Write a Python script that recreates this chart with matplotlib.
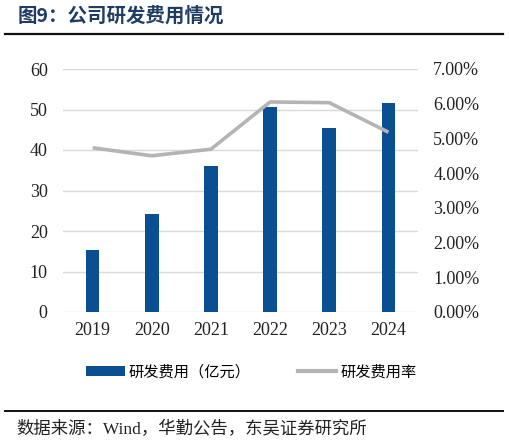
import matplotlib
matplotlib.use("Agg")
import matplotlib.pyplot as plt
from matplotlib.lines import Line2D
from matplotlib.patches import Patch
from matplotlib.ticker import FuncFormatter, MultipleLocator

years = ["2019", "2020", "2021", "2022", "2023", "2024"]
rd_expense = [15.3, 24.3, 36.0, 50.5, 45.4, 51.6]      # 亿元
rd_rate = [4.73, 4.50, 4.69, 6.05, 6.03, 5.18]          # %

title = "图9：公司研发费用情况"
legend_labels = ["研发费用（亿元）", "研发费用率"]
source = "数据来源：Wind，华勤公告，东吴证券研究所"

BLUE = "#0B4F93"
GRAY = "#B4B4B4"
TITLE_C = "#1F3C64"
CJK = ["Noto Sans CJK SC", "DejaVu Sans"]
NUM = ["Liberation Serif", "Noto Sans CJK SC"]

fig = plt.figure(figsize=(5.09, 4.45), dpi=100)
ax = fig.add_axes([63/509, 1-312/445, 355/509, 243/445])
x = list(range(len(years)))
ax.bar(x, rd_expense, width=0.23, color=BLUE, zorder=2)
ax.set_xlim(-0.5, len(years)-0.5)
ax.set_ylim(0, 60)
ax.yaxis.set_major_locator(MultipleLocator(10))
ax.grid(axis="y", color="#D9D9D9", linewidth=1, zorder=0)
ax.set_axisbelow(True)
for s in ax.spines.values():
    s.set_visible(False)
ax.tick_params(length=0, labelsize=13, pad=11)
ax.tick_params(axis="x", pad=7)
ax.set_xticks(x)
ax.set_xticklabels(years)
for t in ax.get_xticklabels() + ax.get_yticklabels():
    t.set_family(NUM)
    t.set_color("#222222")

ax2 = ax.twinx()
ax2.plot(x, rd_rate, color=GRAY, linewidth=2.6, solid_capstyle="butt", zorder=3)
ax2.set_ylim(0, 7)
ax2.yaxis.set_major_locator(MultipleLocator(1))
ax2.yaxis.set_major_formatter(FuncFormatter(lambda v, p: f"{v:.2f}%"))
for s in ax2.spines.values():
    s.set_visible(False)
ax2.tick_params(length=0, labelsize=13, pad=11)
for t in ax2.get_yticklabels():
    t.set_family(NUM)
    t.set_color("#222222")

handles = [Patch(facecolor=BLUE, edgecolor="none"),
           Line2D([0], [0], color=GRAY, linewidth=3)]
fig.legend(handles, legend_labels, loc="center", bbox_to_anchor=(0.494, 1-372/445),
           ncol=2, frameon=False, handlelength=2.5, handleheight=0.55, handletextpad=0.26,
           columnspacing=3.1, borderpad=0, borderaxespad=0,
           prop={"family": CJK, "size": 11})

fig.text(18/509, 1-16/445, title, family=CJK, fontsize=14, fontweight="bold",
         color=TITLE_C, va="center", ha="left")
fig.add_artist(Line2D([5/509, 503/509], [1-34/445, 1-34/445], color="#111111", linewidth=1.6))
fig.add_artist(Line2D([5/509, 503/509], [1-411/445, 1-411/445], color="#111111", linewidth=1.4))
fig.text(16/509, 1-430/445, source, family=NUM, fontsize=12.5, color="#222222",
         va="center", ha="left")

fig.savefig("out.png", dpi=100)
